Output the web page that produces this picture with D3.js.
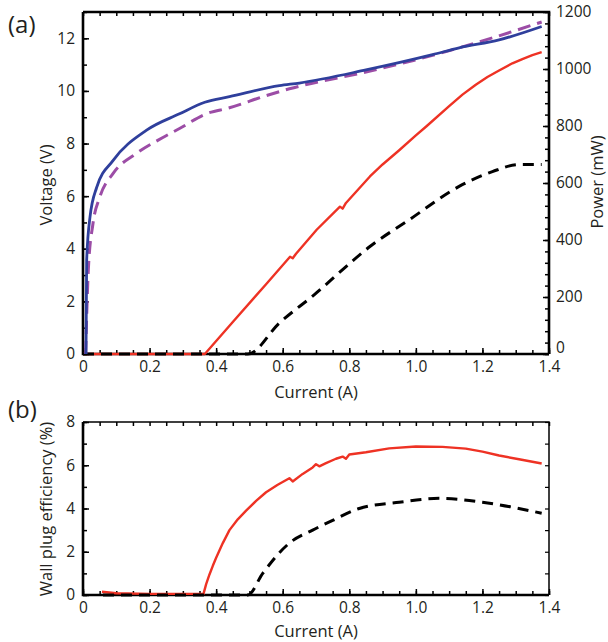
<!DOCTYPE html>
<html>
<head>
<meta charset="utf-8">
<script src="https://cdn.jsdelivr.net/npm/d3@7"></script>
<style>
  body { margin: 0; background: #fff; }
  svg text { font-family: "Open Sans", "Noto Sans", sans-serif; fill: #231f20; }
</style>
</head>
<body>
<svg id="chart" width="608" height="642"></svg>
<script>
// ---- (a) voltage, measured (blue) and second curve (purple dashed)
const blueI = [0.009, 0.011, 0.021, 0.041, 0.09, 0.19, 0.29, 0.366, 0.44, 0.59, 0.65, 0.85, 1.05, 1.13, 1.25, 1.378];
const blueV = [0, 3.56, 5.2, 6.33, 7.35, 8.5, 9.13, 9.57, 9.78, 10.2, 10.3, 10.8, 11.38, 11.64, 11.94, 12.45];
const purpleI = [0.008, 0.016, 0.03, 0.05, 0.09, 0.16, 0.24, 0.29, 0.37, 0.44, 0.55, 0.62, 0.85, 1.05, 1.2, 1.378];
const purpleV = [0, 3.2, 4.96, 5.95, 6.86, 7.62, 8.23, 8.57, 9.13, 9.36, 9.82, 10.08, 10.72, 11.35, 11.9, 12.62];

// ---- (a) output power
const redI = [0, 0.366, 0.45, 0.55, 0.622, 0.63, 0.64, 0.702, 0.772, 0.78, 0.79, 0.862, 0.9, 0.95, 1.0, 1.032, 1.1, 1.14, 1.18, 1.215, 1.25, 1.29, 1.32, 1.35, 1.378];
const redP = [0, 0, 112, 245, 341, 336, 352, 436, 517, 510, 530, 623, 665, 715, 767, 799, 870, 910, 945, 972, 995, 1020, 1035, 1049, 1059];
const blackI = [0, 0.495, 0.59, 0.702, 0.78, 0.862, 0.98, 1.13, 1.23, 1.31, 1.378];
const blackP = [0, 0, 109, 215, 296, 377, 471, 588, 640, 665, 665];

// ---- (b) wall plug efficiency
const effRedI = [0.057, 0.1, 0.2, 0.362, 0.37, 0.38, 0.39, 0.40, 0.42, 0.44, 0.465, 0.49, 0.52, 0.55, 0.585, 0.62, 0.63, 0.66, 0.69, 0.70, 0.71, 0.73, 0.76, 0.78, 0.79, 0.8, 0.85, 0.92, 1.0, 1.08, 1.15, 1.2, 1.25, 1.31, 1.378];
const effRed = [0.15, 0.08, 0.05, 0.05, 0.5, 0.95, 1.35, 1.72, 2.4, 3.0, 3.5, 3.9, 4.35, 4.75, 5.1, 5.4, 5.25, 5.6, 5.9, 6.05, 5.95, 6.1, 6.3, 6.4, 6.3, 6.5, 6.6, 6.78, 6.87, 6.85, 6.77, 6.63, 6.45, 6.28, 6.08];
const effBlackI = [0.06, 0.495, 0.54, 0.62, 0.69, 0.75, 0.83, 0.95, 1.07, 1.2, 1.378];
const effBlack = [0, 0, 1.0, 2.4, 3.0, 3.45, 4.0, 4.29, 4.47, 4.29, 3.78];

const xTicks = [0, 0.2, 0.4, 0.6, 0.8, 1.0, 1.2, 1.4];
const vTicks = [0, 2, 4, 6, 8, 10, 12];
const pTicks = [0, 200, 400, 600, 800, 1000, 1200];
const eTicks = [0, 2, 4, 6, 8];

const svg = d3.select("#chart");
const left = 83, right = 549;
const top_a = 12, bottom_a = 354;
const top_b = 422, bottom_b = 595;

let x = d3.scaleLinear().domain([0, 1.4]).range([left, right]);
let yV = d3.scaleLinear().domain([0, 13]).range([bottom_a, top_a]);
let yP = d3.scaleLinear().domain([0, 1200]).range([bottom_a, top_a]);
let yE = d3.scaleLinear().domain([0, 8]).range([bottom_b, top_b]);

const minorX = d3.range(0, 1.401, 0.05);
const xFmt = d => d === 0 ? "0" : d3.format(".1f")(d);

function frame(y0, y1, yScale, yTickVals, minorY, thinTopRight) {
    // bottom axis with labels
    svg.append("g").attr("transform", "translate(0," + y0 + ")")
        .call(d3.axisBottom(x).tickValues(xTicks).tickFormat(xFmt).tickSize(-6).tickPadding(7))
        .call(g => g.select(".domain").remove());
    svg.append("g").attr("transform", "translate(0," + y0 + ")")
        .call(d3.axisBottom(x).tickValues(minorX).tickFormat("").tickSize(-4))
        .call(g => g.select(".domain").remove());
    // top edge ticks
    svg.append("g").attr("transform", "translate(0," + y1 + ")")
        .call(d3.axisTop(x).tickValues(minorX).tickFormat("").tickSize(-4))
        .call(g => g.select(".domain").remove());
    // left axis
    svg.append("g").attr("transform", "translate(" + left + ",0)")
        .call(d3.axisLeft(yScale).tickValues(yTickVals).tickSize(-6).tickPadding(8))
        .call(g => g.select(".domain").remove());
    svg.append("g").attr("transform", "translate(" + left + ",0)")
        .call(d3.axisLeft(yScale).tickValues(minorY).tickFormat("").tickSize(-4))
        .call(g => g.select(".domain").remove());
    svg.selectAll("g.tick text").style("font-size", "15.5px").attr("fill", "#231f20");
    svg.selectAll("g.tick line").attr("stroke", "#000").attr("stroke-width", 1.5);

    const w = thinTopRight ? 1.5 : 2.6;
    svg.append("path")
        .attr("d", "M" + left + "," + y1 + "H" + right + "V" + y0)
        .attr("fill", "none").attr("stroke", "#000").attr("stroke-width", w);
    svg.append("path")
        .attr("d", "M" + left + "," + y1 + "V" + y0 + "H" + right)
        .attr("fill", "none").attr("stroke", "#000").attr("stroke-width", 2.6);
}

frame(bottom_a, top_a, yV, vTicks, d3.range(0, 13.01, 1), false);

// right power axis
svg.append("g").attr("transform", "translate(" + right + ",0)")
    .call(d3.axisRight(yP).tickValues(pTicks).tickFormat(d3.format("d")).tickSize(-6).tickPadding(7))
    .call(g => g.select(".domain").remove())
    .call(g => g.selectAll("text").style("font-size", "15.5px").attr("dy", d => d === 0 ? "-0.1em" : "0.32em"))
    .call(g => g.selectAll("line").attr("stroke-width", 1.5));
svg.append("g").attr("transform", "translate(" + right + ",0)")
    .call(d3.axisRight(yP).tickValues(d3.range(0, 1201, 40)).tickFormat("").tickSize(-4))
    .call(g => g.select(".domain").remove())
    .call(g => g.selectAll("line").attr("stroke-width", 1.5));

frame(bottom_b, top_b, yE, eTicks, d3.range(0, 8.01, 1), true);
// right edge ticks of (b)
svg.append("g").attr("transform", "translate(" + right + ",0)")
    .call(d3.axisRight(yE).tickValues(d3.range(0, 8.01, 1)).tickFormat("").tickSize(-4))
    .call(g => g.select(".domain").remove())
    .call(g => g.selectAll("line").attr("stroke-width", 1.2));

function drawLine(xs, ys, yScale, color, width, dash, curve) {
    const pts = xs.map((v, i) => [v, ys[i]]);
    const line = d3.line()
        .x(d => x(d[0]))
        .y(d => yScale(d[1]))
        .curve(curve || d3.curveMonotoneX);
    svg.append("path")
        .datum(pts)
        .attr("d", line)
        .attr("fill", "none")
        .attr("stroke", color)
        .attr("stroke-width", width)
        .attr("stroke-dasharray", dash || null)
        .attr("stroke-linejoin", "round");
}

// panel (a)
drawLine(redI, redP, yP, "#ee3224", 2.4, null, d3.curveLinear);
drawLine(blackI, blackP, yP, "#000", 3, "11,7");
drawLine(purpleI, purpleV, yV, "#9c4da6", 3, "13,7");
drawLine(blueI, blueV, yV, "#2f3f9c", 2.8);

// panel (b)
drawLine(effRedI, effRed, yE, "#ee3224", 2.4, null, d3.curveLinear);
drawLine(effBlackI, effBlack, yE, "#000", 3, "11,7");

// labels
svg.append("text").attr("x", 8).attr("y", 33).style("font-size", "24px").text("(a)");
svg.append("text").attr("x", 8).attr("y", 418).style("font-size", "24px").text("(b)");

svg.append("text").attr("transform", "translate(52,185) rotate(-90)")
    .attr("text-anchor", "middle").style("font-size", "16.5px").text("Voltage (V)");
svg.append("text").attr("transform", "translate(603,182) rotate(-90)")
    .attr("text-anchor", "middle").style("font-size", "16.5px").text("Power (mW)");
svg.append("text").attr("x", 316).attr("y", 398)
    .attr("text-anchor", "middle").style("font-size", "16.5px").text("Current (A)");

svg.append("text").attr("transform", "translate(52,509) rotate(-90)")
    .attr("text-anchor", "middle").style("font-size", "16.5px").text("Wall plug efficiency (%)");
svg.append("text").attr("x", 316).attr("y", 637)
    .attr("text-anchor", "middle").style("font-size", "16.5px").text("Current (A)");
</script>
</body>
</html>
